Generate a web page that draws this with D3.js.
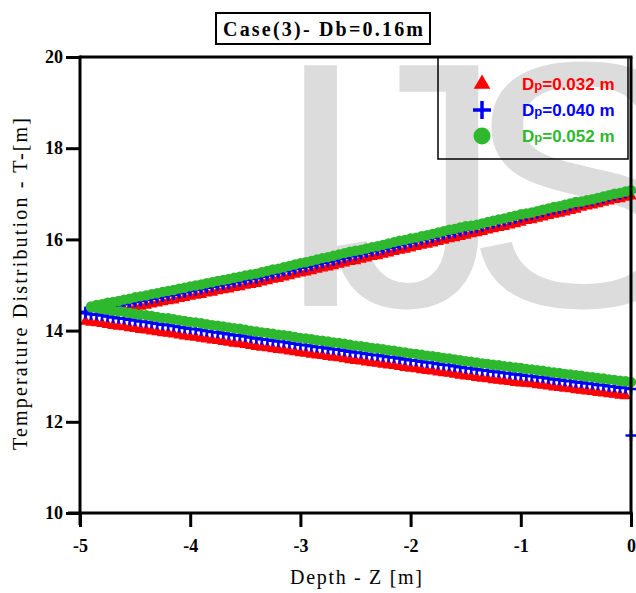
<!DOCTYPE html>
<html>
<head>
<meta charset="utf-8">
<script src="https://cdn.jsdelivr.net/npm/d3@7"></script>
<style>
  body { margin: 0; background: #fff; }
</style>
</head>
<body>
<svg id="chart" width="636" height="593"></svg>
<script>
// depth values (m) shared by every series, -4.95 .. 0.00
const depth = [-4.95, -4.90, -4.85, -4.80, -4.75, -4.70, -4.65, -4.60, -4.55, -4.50,
  -4.45, -4.40, -4.35, -4.30, -4.25, -4.20, -4.15, -4.10, -4.05, -4.00,
  -3.95, -3.90, -3.85, -3.80, -3.75, -3.70, -3.65, -3.60, -3.55, -3.50,
  -3.45, -3.40, -3.35, -3.30, -3.25, -3.20, -3.15, -3.10, -3.05, -3.00,
  -2.95, -2.90, -2.85, -2.80, -2.75, -2.70, -2.65, -2.60, -2.55, -2.50,
  -2.45, -2.40, -2.35, -2.30, -2.25, -2.20, -2.15, -2.10, -2.05, -2.00,
  -1.95, -1.90, -1.85, -1.80, -1.75, -1.70, -1.65, -1.60, -1.55, -1.50,
  -1.45, -1.40, -1.35, -1.30, -1.25, -1.20, -1.15, -1.10, -1.05, -1.00,
  -0.95, -0.90, -0.85, -0.80, -0.75, -0.70, -0.65, -0.60, -0.55, -0.50,
  -0.45, -0.40, -0.35, -0.30, -0.25, -0.20, -0.15, -0.10, -0.05, 0.00]

// Dp = 0.032 m (red)
const redUpper = [null, null, null, null, null, null, null, 14.46, 14.48, 14.51,
  14.53, 14.55, 14.58, 14.60, 14.63, 14.65, 14.67, 14.70, 14.72, 14.75,
  14.77, 14.79, 14.82, 14.84, 14.87, 14.89, 14.91, 14.94, 14.96, 14.99,
  15.01, 15.03, 15.06, 15.09, 15.12, 15.14, 15.17, 15.20, 15.23, 15.26,
  15.28, 15.31, 15.34, 15.37, 15.39, 15.42, 15.45, 15.48, 15.51, 15.53,
  15.56, 15.59, 15.62, 15.64, 15.67, 15.70, 15.73, 15.76, 15.78, 15.81,
  15.84, 15.87, 15.89, 15.92, 15.95, 15.98, 16.01, 16.03, 16.06, 16.09,
  16.12, 16.14, 16.17, 16.20, 16.23, 16.26, 16.28, 16.31, 16.34, 16.37,
  16.41, 16.43, 16.46, 16.49, 16.52, 16.55, 16.57, 16.60, 16.63, 16.66,
  16.70, 16.73, 16.75, 16.78, 16.81, 16.84, 16.87, 16.89, 16.92, 16.95]
const redLower = [14.20, 14.18, 14.17, 14.15, 14.13, 14.11, 14.09, 14.08, 14.06, 14.04,
  14.02, 14.01, 13.99, 13.97, 13.95, 13.94, 13.92, 13.90, 13.88, 13.86,
  13.85, 13.83, 13.81, 13.79, 13.78, 13.76, 13.74, 13.72, 13.71, 13.69,
  13.67, 13.65, 13.63, 13.62, 13.60, 13.58, 13.57, 13.55, 13.53, 13.51,
  13.50, 13.48, 13.46, 13.45, 13.43, 13.41, 13.40, 13.38, 13.36, 13.34,
  13.33, 13.31, 13.29, 13.28, 13.26, 13.24, 13.23, 13.21, 13.19, 13.17,
  13.16, 13.14, 13.12, 13.11, 13.09, 13.07, 13.06, 13.04, 13.02, 13.00,
  12.99, 12.97, 12.95, 12.94, 12.92, 12.91, 12.89, 12.88, 12.86, 12.85,
  12.84, 12.83, 12.81, 12.80, 12.78, 12.76, 12.75, 12.73, 12.72, 12.70,
  12.69, 12.67, 12.66, 12.64, 12.63, 12.61, 12.60, 12.58, 12.57, null]

// Dp = 0.040 m (blue)
const blueUpper = [14.41, 14.43, 14.46, 14.48, 14.51, 14.53, 14.55, 14.58, 14.60, 14.63,
  14.65, 14.67, 14.70, 14.72, 14.75, 14.77, 14.79, 14.82, 14.84, 14.87,
  14.89, 14.91, 14.94, 14.96, 14.99, 15.01, 15.03, 15.06, 15.08, 15.11,
  15.13, 15.15, 15.18, 15.21, 15.24, 15.26, 15.30, 15.32, 15.35, 15.38,
  15.40, 15.43, 15.46, 15.49, 15.51, 15.54, 15.57, 15.60, 15.63, 15.65,
  15.68, 15.71, 15.74, 15.76, 15.79, 15.82, 15.84, 15.88, 15.90, 15.93,
  15.96, 15.99, 16.01, 16.04, 16.07, 16.10, 16.13, 16.15, 16.18, 16.21,
  16.24, 16.26, 16.29, 16.32, 16.35, 16.38, 16.40, 16.43, 16.46, 16.49,
  16.52, 16.54, 16.57, 16.60, 16.63, 16.66, 16.68, 16.71, 16.74, 16.77,
  16.80, 16.83, 16.85, 16.88, 16.91, 16.94, 16.97, 16.99, 17.02, 17.05]
const blueLower = [14.38, 14.36, 14.35, 14.33, 14.31, 14.29, 14.27, 14.26, 14.24, 14.22,
  14.20, 14.19, 14.17, 14.15, 14.13, 14.12, 14.10, 14.08, 14.06, 14.04,
  14.03, 14.01, 13.99, 13.97, 13.96, 13.94, 13.92, 13.90, 13.89, 13.87,
  13.85, 13.83, 13.81, 13.80, 13.78, 13.76, 13.75, 13.73, 13.71, 13.69,
  13.68, 13.66, 13.64, 13.63, 13.61, 13.59, 13.58, 13.56, 13.54, 13.52,
  13.51, 13.49, 13.47, 13.46, 13.44, 13.42, 13.41, 13.39, 13.37, 13.35,
  13.34, 13.32, 13.30, 13.29, 13.27, 13.25, 13.24, 13.22, 13.20, 13.18,
  13.17, 13.15, 13.13, 13.12, 13.10, 13.09, 13.07, 13.06, 13.04, 13.03,
  13.01, 13.00, 12.98, 12.97, 12.95, 12.93, 12.92, 12.90, 12.89, 12.87,
  12.86, 12.84, 12.83, 12.81, 12.80, 12.78, 12.77, 12.75, 12.74, 12.72]
const blueExtraZ = [0.0]
const blueExtraT = [11.7]

// Dp = 0.052 m (green)
const greenUpper = [null, 14.53, 14.56, 14.58, 14.61, 14.63, 14.65, 14.68, 14.70, 14.73,
  14.75, 14.77, 14.80, 14.82, 14.85, 14.87, 14.89, 14.92, 14.94, 14.97,
  14.99, 15.01, 15.04, 15.06, 15.09, 15.11, 15.13, 15.16, 15.18, 15.21,
  15.23, 15.25, 15.28, 15.31, 15.34, 15.36, 15.39, 15.42, 15.45, 15.48,
  15.50, 15.53, 15.56, 15.59, 15.61, 15.64, 15.67, 15.70, 15.73, 15.75,
  15.77, 15.80, 15.83, 15.85, 15.88, 15.91, 15.94, 15.97, 15.99, 16.02,
  16.04, 16.07, 16.09, 16.12, 16.15, 16.18, 16.21, 16.23, 16.26, 16.29,
  16.30, 16.32, 16.35, 16.38, 16.41, 16.44, 16.46, 16.49, 16.52, 16.55,
  16.57, 16.59, 16.62, 16.65, 16.68, 16.71, 16.73, 16.76, 16.79, 16.82,
  16.83, 16.86, 16.88, 16.91, 16.94, 16.97, 17.00, 17.02, 17.05, 17.08]
const greenLower = [null, 14.51, 14.50, 14.48, 14.46, 14.44, 14.42, 14.41, 14.39, 14.37,
  14.35, 14.34, 14.32, 14.30, 14.28, 14.27, 14.25, 14.23, 14.21, 14.19,
  14.18, 14.16, 14.14, 14.12, 14.11, 14.09, 14.07, 14.05, 14.04, 14.02,
  14.00, 13.98, 13.96, 13.95, 13.93, 13.91, 13.90, 13.88, 13.86, 13.84,
  13.83, 13.81, 13.79, 13.78, 13.76, 13.74, 13.73, 13.71, 13.69, 13.67,
  13.66, 13.64, 13.62, 13.61, 13.59, 13.57, 13.56, 13.54, 13.52, 13.50,
  13.49, 13.47, 13.45, 13.44, 13.42, 13.40, 13.39, 13.37, 13.35, 13.33,
  13.32, 13.30, 13.28, 13.27, 13.25, 13.24, 13.22, 13.21, 13.19, 13.18,
  13.16, 13.15, 13.13, 13.12, 13.10, 13.08, 13.07, 13.05, 13.04, 13.02,
  13.01, 12.99, 12.98, 12.96, 12.95, 12.93, 12.92, 12.90, 12.89, 12.87]

const xTicks = [-5, -4, -3, -2, -1, 0]
const yTicks = [10, 12, 14, 16, 18, 20]

const series = [
  {label: '=0.032 m', color: '#ff0000', shape: 'triangle', upper: redUpper, lower: redLower},
  {label: '=0.040 m', color: '#0000ff', shape: 'plus', upper: blueUpper, lower: blueLower},
  {label: '=0.052 m', color: '#2eb82e', shape: 'circle', upper: greenUpper, lower: greenLower}
]

const serif = "'Liberation Serif', 'Times New Roman', serif"
const sans = "'Liberation Sans', Arial, sans-serif"

const svg = d3.select('#chart')
const mLeft = 80, mRight = 631, mTop = 57, mBottom = 513

const x = d3.scaleLinear().domain([-5, 0]).range([mLeft, mRight])
const y = d3.scaleLinear().domain([10, 20]).range([mBottom, mTop])

// watermark
svg.append('text')
  .attr('x', 272)
  .attr('y', 306)
  .attr('font-family', sans)
  .attr('font-size', 350)
  .attr('letter-spacing', -40)
  .attr('fill', '#dcdcdc')
  .text('IJS')

function drawMarker(g, shape, color, big) {
  if (shape === 'triangle') {
    g.append('path')
      .attr('d', d3.symbol(d3.symbolTriangle, big ? 120 : 58)())
      .attr('fill', color)
  } else if (shape === 'circle') {
    g.append('circle').attr('r', big ? 8.5 : 5.2).attr('fill', color)
  } else {
    let s = big ? 9 : 5.5
    g.append('path')
      .attr('d', `M${-s},0H${s}M0,${-s}V${s}`)
      .attr('stroke', color)
      .attr('stroke-width', big ? 3.5 : 2.6)
      .attr('fill', 'none')
  }
}

// points
series.forEach(s => {
  let pts = []
  depth.forEach((z, i) => {
    if (s.lower[i] != null) pts.push({z: z, t: s.lower[i]})
    if (s.upper[i] != null) pts.push({z: z, t: s.upper[i]})
  })
  if (s.shape === 'plus') {
    blueExtraZ.forEach((z, i) => pts.push({z: z, t: blueExtraT[i]}))
  }
  svg.append('g')
    .selectAll('g')
    .data(pts)
    .join('g')
      .attr('transform', d => `translate(${x(d.z)},${y(d.t)})`)
      .each(function() { drawMarker(d3.select(this), s.shape, s.color, false) })
})

// axes
const xAxis = svg.append('g')
  .attr('transform', `translate(0,${mBottom})`)
  .call(d3.axisBottom(x).tickValues(xTicks).tickFormat(d => String(d)).tickSize(14).tickSizeOuter(0).tickPadding(12))
const yAxis = svg.append('g')
  .attr('transform', `translate(${mLeft},0)`)
  .call(d3.axisLeft(y).tickValues(yTicks).tickFormat(d => String(d)).tickSize(14).tickSizeOuter(0).tickPadding(3))

;[xAxis, yAxis].forEach(a => {
  a.select('.domain').remove()
  a.selectAll('.tick line').attr('stroke', '#000').attr('stroke-width', 3)
  a.selectAll('.tick text')
    .attr('fill', '#000')
    .attr('font-family', serif)
    .attr('font-weight', 'bold')
    .attr('font-size', 18)
})

// frame
const frame = svg.append('g').attr('stroke', '#000').attr('stroke-width', 3).attr('fill', 'none')
frame.append('line').attr('x1', mLeft - 12).attr('x2', mRight + 1.5).attr('y1', mBottom).attr('y2', mBottom)
frame.append('line').attr('x1', mLeft).attr('x2', mLeft).attr('y1', mTop - 1.5).attr('y2', mBottom + 12)
frame.append('line').attr('x1', mLeft).attr('x2', mRight + 1.5).attr('y1', mTop).attr('y2', mTop)
frame.append('line').attr('x1', mRight).attr('x2', mRight).attr('y1', mTop).attr('y2', mBottom)

// axis titles
svg.append('text')
  .attr('x', 356).attr('y', 584)
  .attr('text-anchor', 'middle')
  .attr('font-family', serif)
  .attr('font-size', 20)
  .attr('textLength', 132)
  .attr('lengthAdjust', 'spacing')
  .text('Depth - Z [m]')

svg.append('text')
  .attr('transform', 'translate(27,284) rotate(-90)')
  .attr('text-anchor', 'middle')
  .attr('font-family', serif)
  .attr('font-size', 20)
  .attr('textLength', 332)
  .attr('lengthAdjust', 'spacing')
  .text('Temperature Distribution - T-[m]')

// title box
svg.append('rect')
  .attr('x', 216).attr('y', 13).attr('width', 214).attr('height', 31)
  .attr('fill', 'none').attr('stroke', '#000').attr('stroke-width', 2)
svg.append('text')
  .attr('x', 323).attr('y', 36)
  .attr('text-anchor', 'middle')
  .attr('font-family', serif)
  .attr('font-weight', 'bold')
  .attr('font-size', 20)
  .attr('textLength', 200)
  .attr('lengthAdjust', 'spacing')
  .text('Case(3)- Db=0.16m')

// legend
const legend = svg.append('g')
legend.append('rect')
  .attr('x', 438).attr('y', 57).attr('width', 190).attr('height', 102)
  .attr('fill', 'none').attr('stroke', '#000').attr('stroke-width', 1.5)
series.forEach((s, i) => {
  let ly = 84 + i * 26
  let g = legend.append('g').attr('transform', `translate(482,${ly})`)
  drawMarker(g, s.shape, s.color, true)
  let t = legend.append('text')
    .attr('x', 522).attr('y', ly + 6)
    .attr('font-family', sans)
    .attr('font-weight', 'bold')
    .attr('font-size', 17)
    .attr('fill', s.color)
  t.append('tspan').text('D')
  t.append('tspan').attr('font-size', 13).text('p')
  t.append('tspan').text(s.label)
})
</script>
</body>
</html>
